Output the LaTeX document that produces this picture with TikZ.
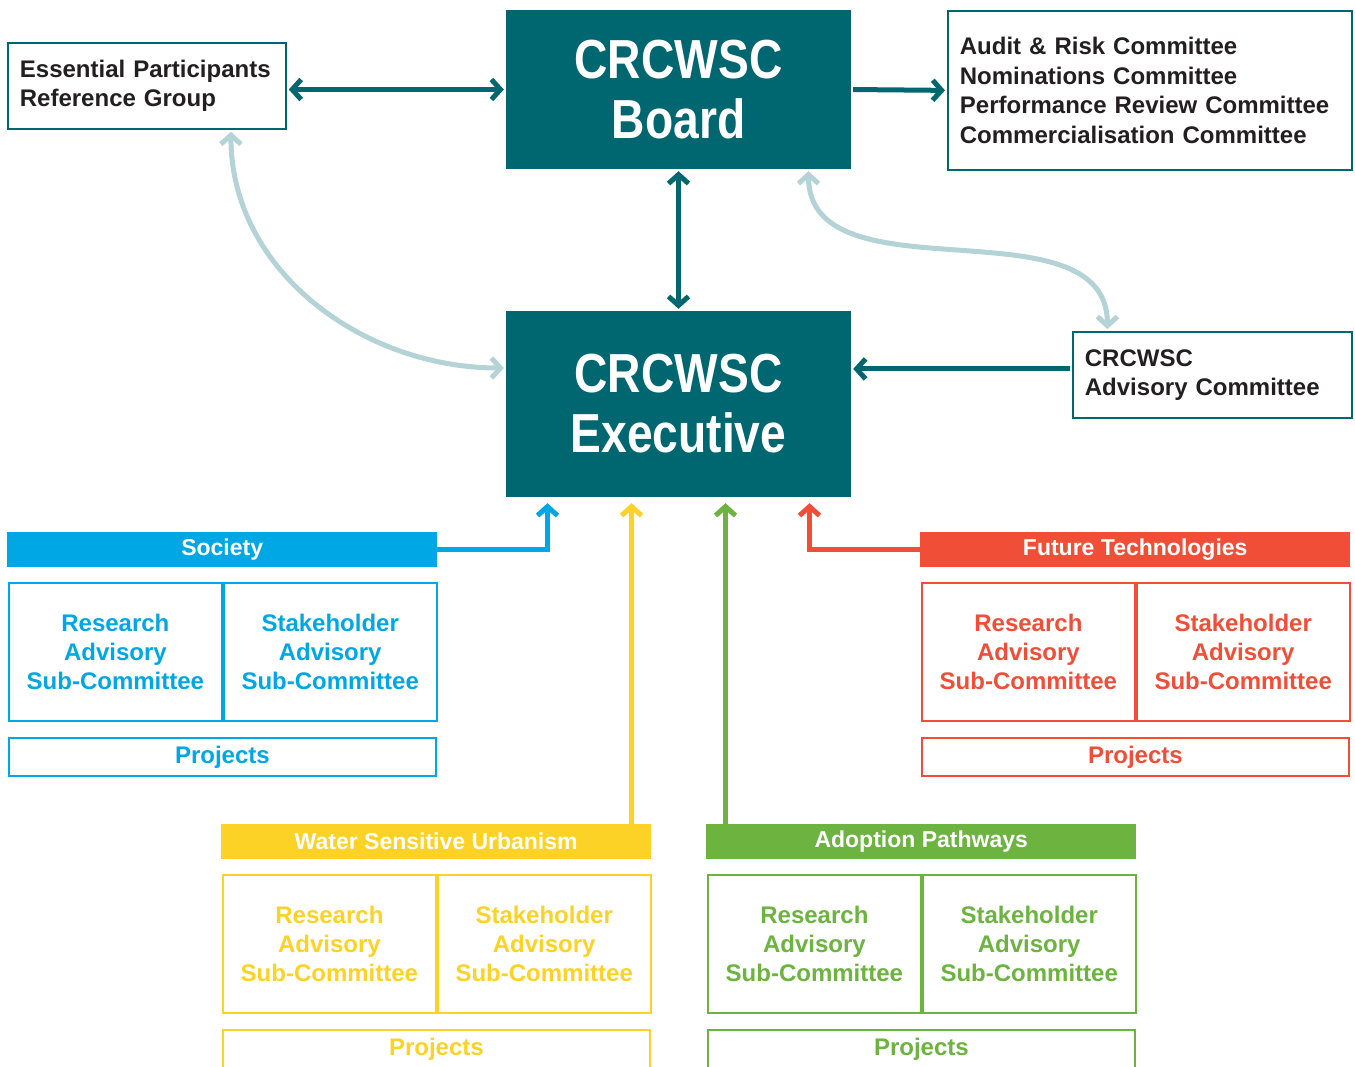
\documentclass[tikz,border=0pt]{standalone}
\usepackage{fontspec}
\setmainfont{Liberation Sans}
\newfontfamily\headfont{Liberation Sans}[FakeStretch=0.84]
\usetikzlibrary{arrows.meta}

\definecolor{crcteal}{HTML}{00666F}
\definecolor{crclight}{HTML}{B3D3D6}
\definecolor{crctext}{HTML}{231F20}
\definecolor{socblue}{HTML}{00A7E5}
\definecolor{futred}{HTML}{F04E37}
\definecolor{wsuyellow}{HTML}{FDD226}
\definecolor{adogreen}{HTML}{6CB33F}

\begin{document}
\begin{tikzpicture}[x=1pt, y=-1pt,
		>={Straight Barb[length=9pt, width=20pt]},
		big/.style={fill=crcteal, text=white, minimum width=345pt, align=center, inner sep=0pt,
			font=\headfont\fontsize{55}{60}\selectfont\bfseries},
		lbl/.style={draw=crcteal, line width=1.8pt, anchor=north west, align=left, inner xsep=12pt,
			inner ysep=0pt, text=crctext, font=\fontsize{24}{29.5}\selectfont\bfseries},
		head/.style={text=white, minimum width=430pt, minimum height=35pt, anchor=north west,
			inner sep=0pt, font=\fontsize{23}{26}\selectfont\bfseries},
		sub/.style={draw, line width=1.8pt, minimum width=213pt, minimum height=138pt, anchor=north west,
			align=center, inner sep=0pt, font=\fontsize{24}{29}\selectfont\bfseries},
		proj/.style={draw, line width=1.8pt, minimum width=427pt, minimum height=38pt, anchor=north west,
			inner sep=0pt, font=\fontsize{24}{28}\selectfont\bfseries},
		main/.style={draw=crcteal, line width=5pt, shorten <=2pt, shorten >=2pt},
		soft/.style={draw=crclight, line width=5pt, shorten <=2pt, shorten >=2pt},
		thm/.style={line width=5pt, ->, shorten >=6pt}]
		%\draw[help lines] (0,0) grid[step=100] (1355,1066);
		\useasboundingbox (0,0) rectangle (1355,1066);
		\clip (0,0) rectangle (1355,1066);
		
		\node[big, minimum height=159pt] (bd) at (678.5, 89.5) {CRCWSC\\Board};
		\node[big, minimum height=186pt] (ex) at (678.5, 404) {CRCWSC\\Executive};
		
		\node[lbl, text width=254pt, minimum height=86pt] (ep) at (7, 42)
			{Essential Participants\\Reference Group};
		\node[lbl, text width=380pt, minimum height=159pt] (cm) at (947, 10)
			{Audit \& Risk Committee\\Nominations Committee\\Performance Review Committee\\Commercialisation Committee};
		\node[lbl, text width=255pt, minimum height=86pt] (adv) at (1072, 331)
			{CRCWSC\\Advisory Committee};
		
		\foreach \n/\name/\col/\x/\y in {1/Society/socblue/7/532,
			2/Future Technologies/futred/920/532,
			3/Water Sensitive Urbanism/wsuyellow/221/824,
			4/Adoption Pathways/adogreen/706/824}
		{
			\node[head, fill=\col] (h\n) at (\x, \y) {\name};
			\node[sub, draw=\col, text=\col] (r\n) at (\x+1, \y+50) {Research\\Advisory\\Sub-Committee};
			\node[sub, draw=\col, text=\col] (s\n) at (r\n.north east) {Stakeholder\\Advisory\\Sub-Committee};
			\node[proj, draw=\col, text=\col] (p\n) at (\x+1, \y+205) {Projects};
		}
		
		\foreach \i/\d in {1/-131, 2/131, 3/-47, 4/47}
		\coordinate (e\i) at ([xshift=\d pt]ex.south);
		\coordinate (a1) at ([yshift=6pt]adv.west);
		
		\draw[main, <->] (ep.east |- bd.west) -- (bd.west);
		\draw[main, ->] (bd.east) -- (cm.west);
		\draw[main, <->] (bd.south) -- (ex.north);
		\draw[main, ->] (a1) -- (a1 -| ex.east);
		
		\draw[soft, <->] ([xshift=84pt]ep.south) to[out=-90, in=180] ([yshift=36pt]ex.west);
		\draw[soft, <->] ([xshift=130pt]bd.south) to[out=-90, in=90] ([xshift=-105pt]adv.north);
		
		\draw[thm, socblue] (h1.east) -| (e1);
		\draw[thm, futred] (h2.west) -| (e2);
		\draw[thm, wsuyellow] (h3.north -| e3) -- (e3);
		\draw[thm, adogreen] (h4.north -| e4) -- (e4);
		
	\end{tikzpicture}
\end{document}
